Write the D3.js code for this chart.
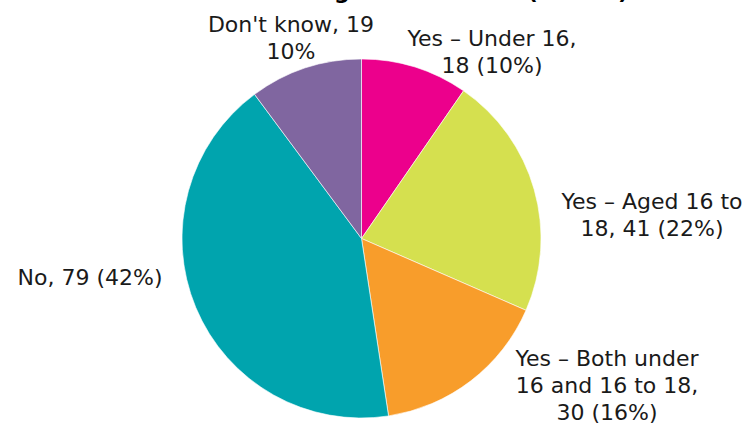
<!DOCTYPE html>
<html>
<head>
<meta charset="utf-8">
<script src="https://cdn.jsdelivr.net/npm/d3@7"></script>
<style>
  html, body { margin: 0; padding: 0; background: #fff; }
  svg { display: block; font-family: "DejaVu Sans", Verdana, sans-serif; }
</style>
</head>
<body>
<svg id="chart" width="749" height="424"></svg>
<script>
// Responses, clockwise from 12 o'clock
const categories = [
  "Yes – Under 16",
  "Yes – Aged 16 to 18",
  "Yes – Both under 16 and 16 to 18",
  "No",
  "Don't know"
];
const counts = [18, 41, 30, 79, 19];
const percents = [10, 22, 16, 42, 10];
const colours = ["#EC008C", "#D5E04F", "#F89D2B", "#00A4AE", "#8066A0"];

// Label text lines for each slice
const labelLines = [
  ["Yes – Under 16,", "18 (10%)"],
  ["Yes – Aged 16 to", "18, 41 (22%)"],
  ["Yes – Both under", "16 and 16 to 18,", "30 (16%)"],
  ["No, 79 (42%)"],
  ["Don't know, 19", "10%"]
];

const title = "Working with children (n=187)";

const svg = d3.select("#chart");
const cx = 361.5, cy = 238.5, radius = 179.5;

// Title (top of chart area)
svg.append("text")
  .attr("x", 628)
  .attr("y", -1)
  .attr("text-anchor", "end")
  .attr("font-size", 22)
  .attr("font-weight", "bold")
  .attr("fill", "#000")
  .text(title);

const data = categories.map((c, i) => ({ category: c, count: counts[i], pct: percents[i], colour: colours[i], lines: labelLines[i] }));

const pie = d3.pie().value(d => d.count).sort(null).startAngle(0).endAngle(2 * Math.PI);
const arc = d3.arc().innerRadius(0).outerRadius(radius);
const arcs = pie(data);

const g = svg.append("g").attr("transform", `translate(${cx},${cy})`);

g.selectAll("path.slice")
  .data(arcs)
  .join("path")
  .attr("class", "slice")
  .attr("d", arc)
  .attr("fill", d => d.data.colour)
  .attr("stroke", "#fff")
  .attr("stroke-width", 0.6);

// Label anchor points (centre x, first baseline y) placed around the pie
const labelAnchors = [
  [492, 46],
  [652, 209],
  [607, 366],
  [90, 285],
  [291, 32]
];
const lineHeight = 27;

const labels = svg.selectAll("text.label")
  .data(arcs)
  .join("text")
  .attr("class", "label")
  .attr("text-anchor", "middle")
  .attr("font-size", 22)
  .attr("fill", "#1a1a1a");

labels.each(function(d, i) {
  const [lx, ly] = labelAnchors[i];
  d3.select(this).selectAll("tspan")
    .data(d.data.lines)
    .join("tspan")
    .attr("x", lx)
    .attr("y", (t, j) => ly + j * lineHeight)
    .text(t => t);
});
</script>
</body>
</html>
